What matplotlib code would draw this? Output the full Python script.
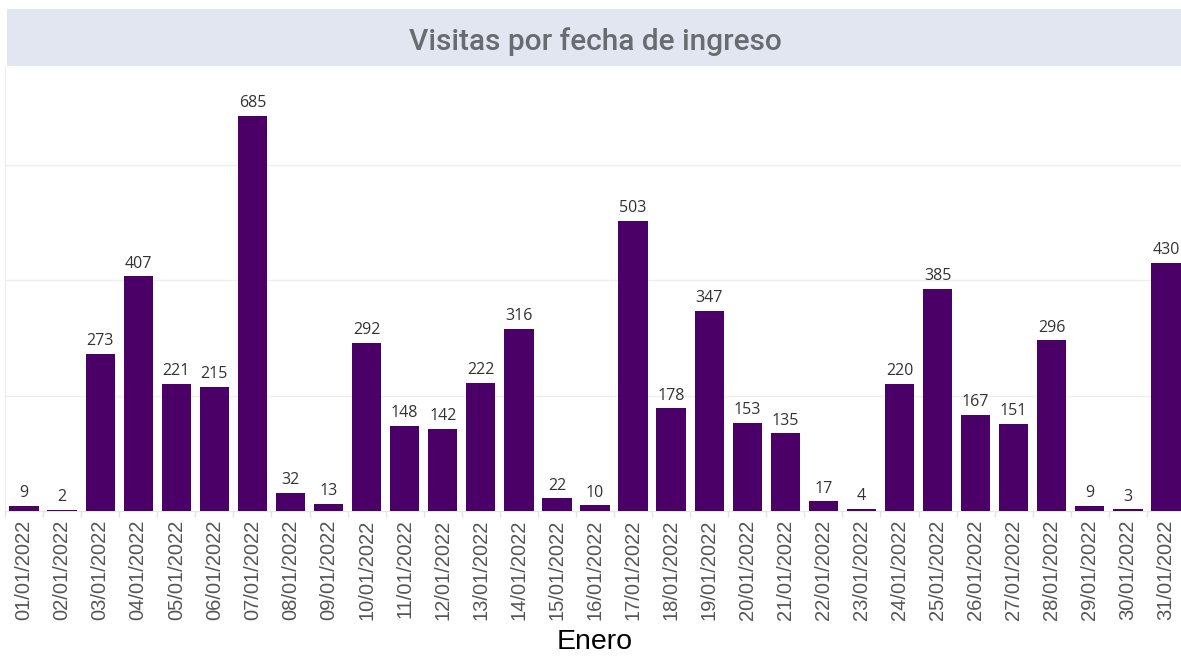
import matplotlib
matplotlib.use("Agg")
import matplotlib.pyplot as plt
from matplotlib.patches import Rectangle
import numpy as np

dates = [f"{d:02d}/01/2022" for d in range(1, 32)]
visits = [9, 2, 273, 407, 221, 215, 685, 32, 13, 292, 148, 142, 222, 316, 22, 10,
          503, 178, 347, 153, 135, 17, 4, 220, 385, 167, 151, 296, 9, 3, 430]
grid_values = [200, 400, 600]
title = "Visitas por fecha de ingreso"
xlabel = "Enero"

W, H = 1181, 659
fig = plt.figure(figsize=(W / 100, H / 100), dpi=100)
fig.patch.set_facecolor("white")

# title band
fig.patches.append(Rectangle((7 / W, 1 - 66 / H), 1 - 7 / W, 57 / H,
                             transform=fig.transFigure, facecolor="#e1e6f0",
                             edgecolor="none", zorder=0))
fig.text(595 / W, 1 - 50 / H, title, ha="center", va="baseline",
         fontsize=21.5, fontweight="medium", color="#686b70", family="Roboto")

ax = fig.add_axes([5 / W, 1 - 511 / H, 1 - 5 / W + 4 / W, (511 - 68) / H])
x = np.arange(len(visits))
ax.bar(x, visits, width=0.77, color="#4b0068", zorder=3)
for xi, v in zip(x, visits):
    ax.text(xi, v + 8, str(v), ha="center", va="bottom", fontsize=11.5,
            color="#333333", family="Open Sans", zorder=4)

ax.set_xlim(-0.5, len(visits) - 0.5)
ax.set_ylim(0, 768)
ax.set_yticks(grid_values)
ax.set_yticklabels([])
ax.tick_params(axis="y", length=0)
ax.grid(axis="y", color="#efefef", linewidth=1, zorder=0)
ax.set_xticks(x)
ax.set_xticklabels(dates, rotation=90, fontsize=14.5, color="#555555",
                   family="Liberation Sans")
ax.tick_params(axis="x", length=0, pad=6)
ax.set_xticks(np.arange(-0.5, len(visits), 1), minor=True)
ax.tick_params(axis="x", which="minor", length=4, color="#e3e3e3", width=1)
for s in ["top", "right"]:
    ax.spines[s].set_visible(False)
ax.spines["left"].set_color("#eeeeee")
ax.spines["bottom"].set_color("#e6e6e6")
ax.set_xlabel(xlabel, fontsize=20.5, color="black", family="Liberation Sans",
              labelpad=7)

fig.savefig("out.png", dpi=100)
